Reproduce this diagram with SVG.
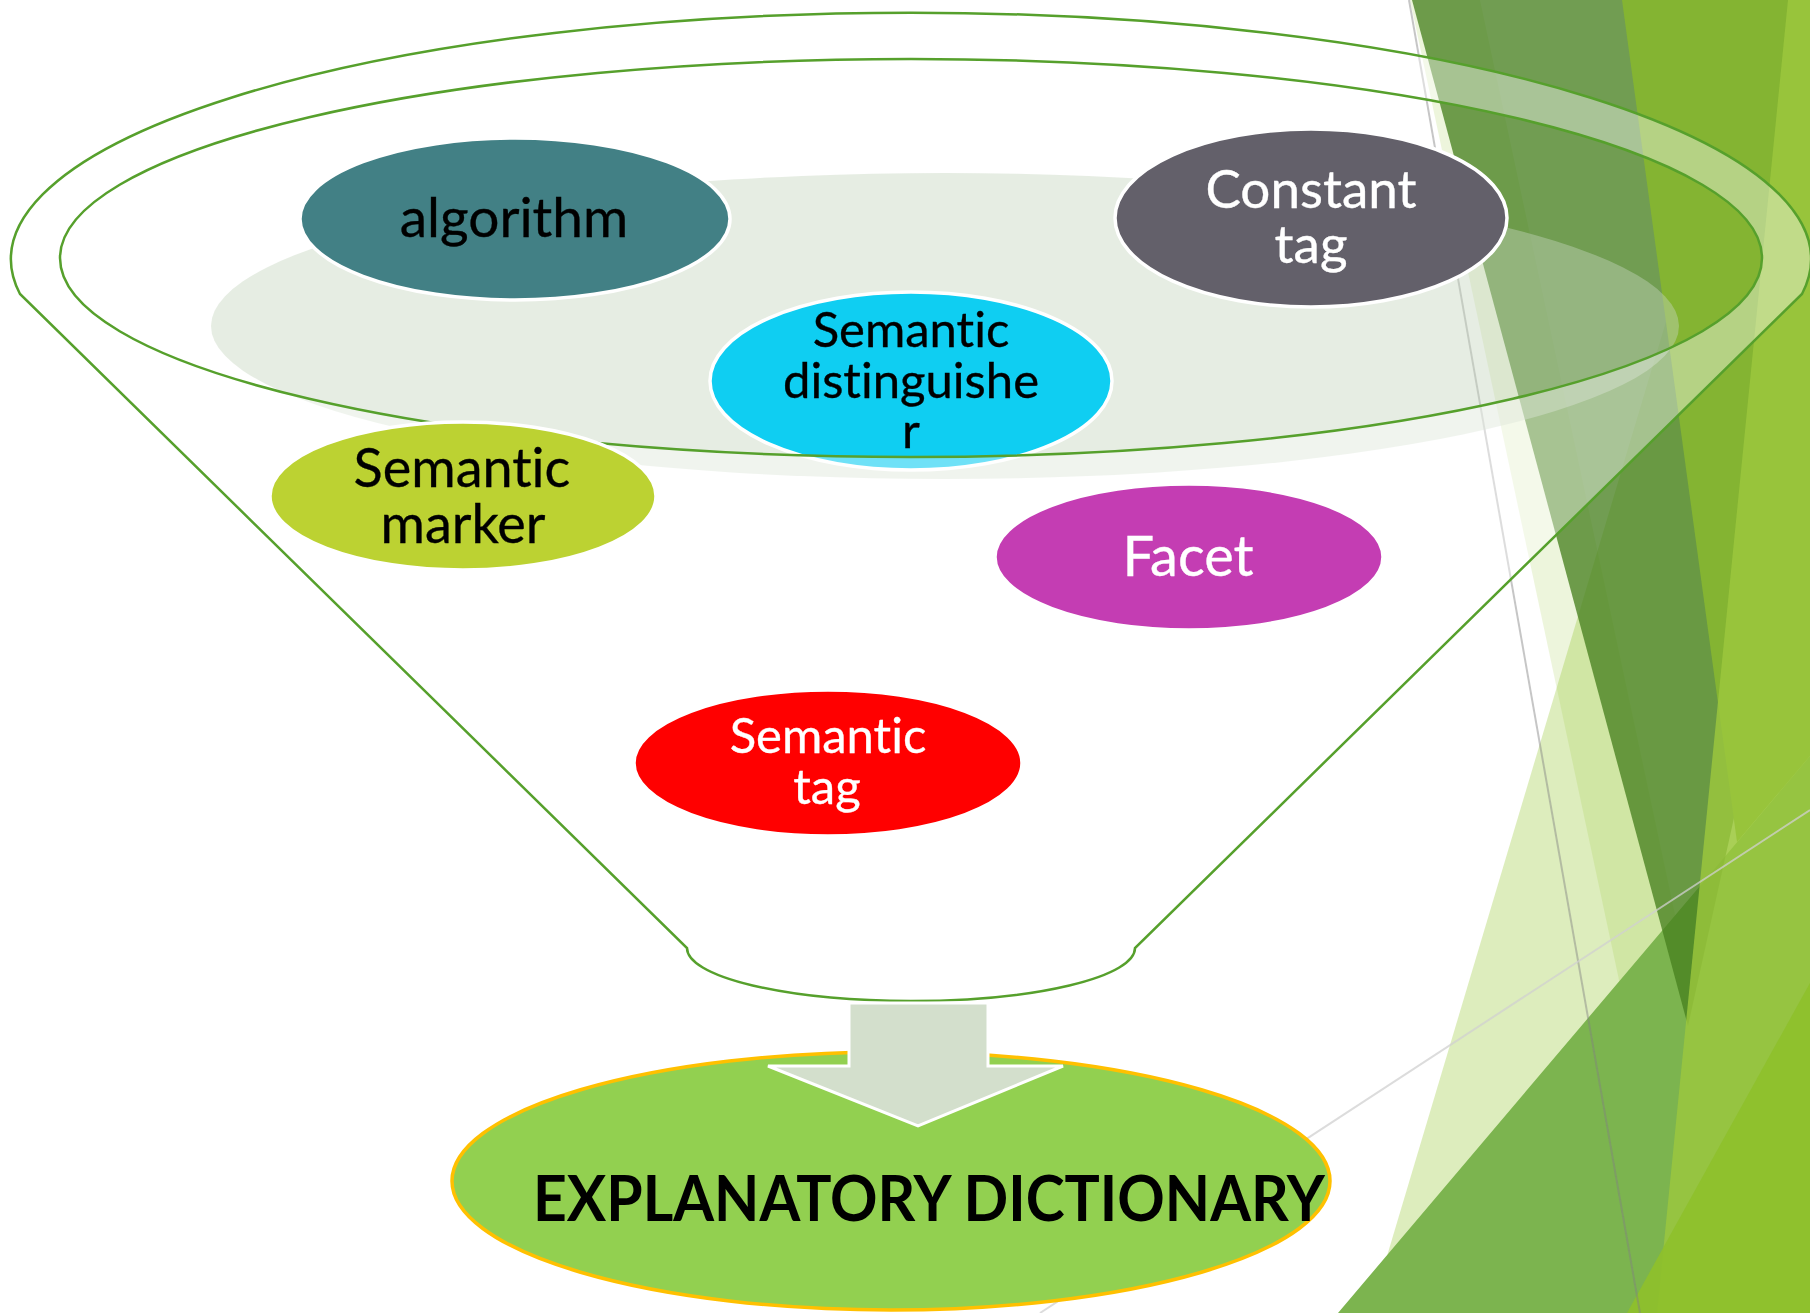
<svg xmlns="http://www.w3.org/2000/svg" width="1810" height="1313" viewBox="0 0 1810 1313">
<style>
.node ellipse{stroke:#ffffff;stroke-width:3.5}
.t{font-family:Lato,"Open Sans","Liberation Sans",sans-serif;text-anchor:middle;stroke-width:0.35;font-variant-ligatures:none;font-feature-settings:"liga" 0}
.dark{fill:#000000;stroke:#000000}
.light{fill:#ffffff;stroke:#ffffff}
.funnel{fill:#ffffff;fill-opacity:0.4;fill-rule:evenodd;stroke:#56A02C;stroke-width:2.5}
</style>
<rect width="1810" height="1313" fill="#ffffff"/>
<g id="background">
<polygon points="1410,0 1480,0 1760,1313 1690,1313" fill="#90C226" fill-opacity="0.16"/>
<polygon points="1370,1313 1762,0 1810,0 1810,1313" fill="#90C226" fill-opacity="0.3"/>
<polygon points="1338,1313 1700,886 1810,756 1810,1313" fill="#7CB44F"/>
<polygon points="1412,0 1760,0 1760,700 1688,1026" fill="#46801E" fill-opacity="0.77"/>
<polygon points="1622,0 1810,0 1810,756 1737,842" fill="#84B432"/>
<polygon points="1788,0 1810,0 1810,1313 1657,1313" fill="#9CC83E" fill-opacity="0.81"/>
<polygon points="1627,1313 1810,983 1810,1313" fill="#8EC02B" fill-opacity="0.92"/>
<line x1="1409" y1="0" x2="1640" y2="1313" stroke="#808080" stroke-opacity="0.45" stroke-width="2"/>
<line x1="1040" y1="1313" x2="1810" y2="810" stroke="#D0D0D0" stroke-opacity="0.75" stroke-width="2"/>
</g>
<ellipse id="backdrop" cx="945" cy="326" rx="734" ry="153" fill="#C4D5BE" fill-opacity="0.43"/>
<g id="node-algorithm" class="node">
<ellipse cx="515" cy="219" rx="215" ry="81" fill="#428085"/>
<text class="t dark" x="514" y="237" font-size="55">algorithm</text>
</g>
<g id="node-constant-tag" class="node">
<ellipse cx="1311" cy="218" rx="196" ry="89" fill="#63606A"/>
<text class="t light" x="1311" y="208" font-size="53">Constant</text>
<text class="t light" x="1311" y="263" font-size="53">tag</text>
</g>
<g id="node-semantic-distinguisher" class="node">
<ellipse cx="911" cy="381" rx="201" ry="89" fill="#0FCEF2"/>
<text class="t dark" x="911" y="347" font-size="49">Semantic</text>
<text class="t dark" x="911" y="398" font-size="49">distinguishe</text>
<text class="t dark" x="911" y="448" font-size="49">r</text>
</g>
<g id="funnel">
<path class="funnel" d="M20,294 A900,246.5 0 1 1 1802,294 L1135,948 A224,53 0 0 1 687,948 Z M60,258 A851,199 0 1 0 1762,258 A851,199 0 1 0 60,258 Z"/>
</g>
<g id="node-semantic-marker" class="node">
<ellipse cx="463" cy="496" rx="193" ry="74" fill="#BCD232"/>
<text class="t dark" x="462" y="487" font-size="54">Semantic</text>
<text class="t dark" x="463" y="543" font-size="54">marker</text>
</g>
<g id="node-facet" class="node">
<ellipse cx="1189" cy="557" rx="194" ry="73" fill="#C43DB3"/>
<text class="t light" x="1188" y="576" font-size="56">Facet</text>
</g>
<g id="node-semantic-tag" class="node">
<ellipse cx="828" cy="763" rx="194" ry="73" fill="#FF0000"/>
<text class="t light" x="828" y="753" font-size="49">Semantic</text>
<text class="t light" x="827" y="804" font-size="49">tag</text>
</g>
<g id="node-explanatory-dictionary">
<ellipse cx="891" cy="1181" rx="439" ry="129" fill="#92D050" stroke="#FFC000" stroke-width="3.5"/>
<text x="533" y="1221" font-family="Lato,'Open Sans','Liberation Sans',sans-serif" font-size="64" font-weight="bold" fill="#000000" textLength="792" lengthAdjust="spacingAndGlyphs">EXPLANATORY DICTIONARY</text>
</g>
<g id="connectors">
<path d="M849,1003 L988,1003 L988,1066 L1063,1066 L918,1126 L768,1066 L849,1066 Z" fill="#D3DFCC" stroke="#ffffff" stroke-width="3" stroke-linejoin="miter"/>
</g>
</svg>
